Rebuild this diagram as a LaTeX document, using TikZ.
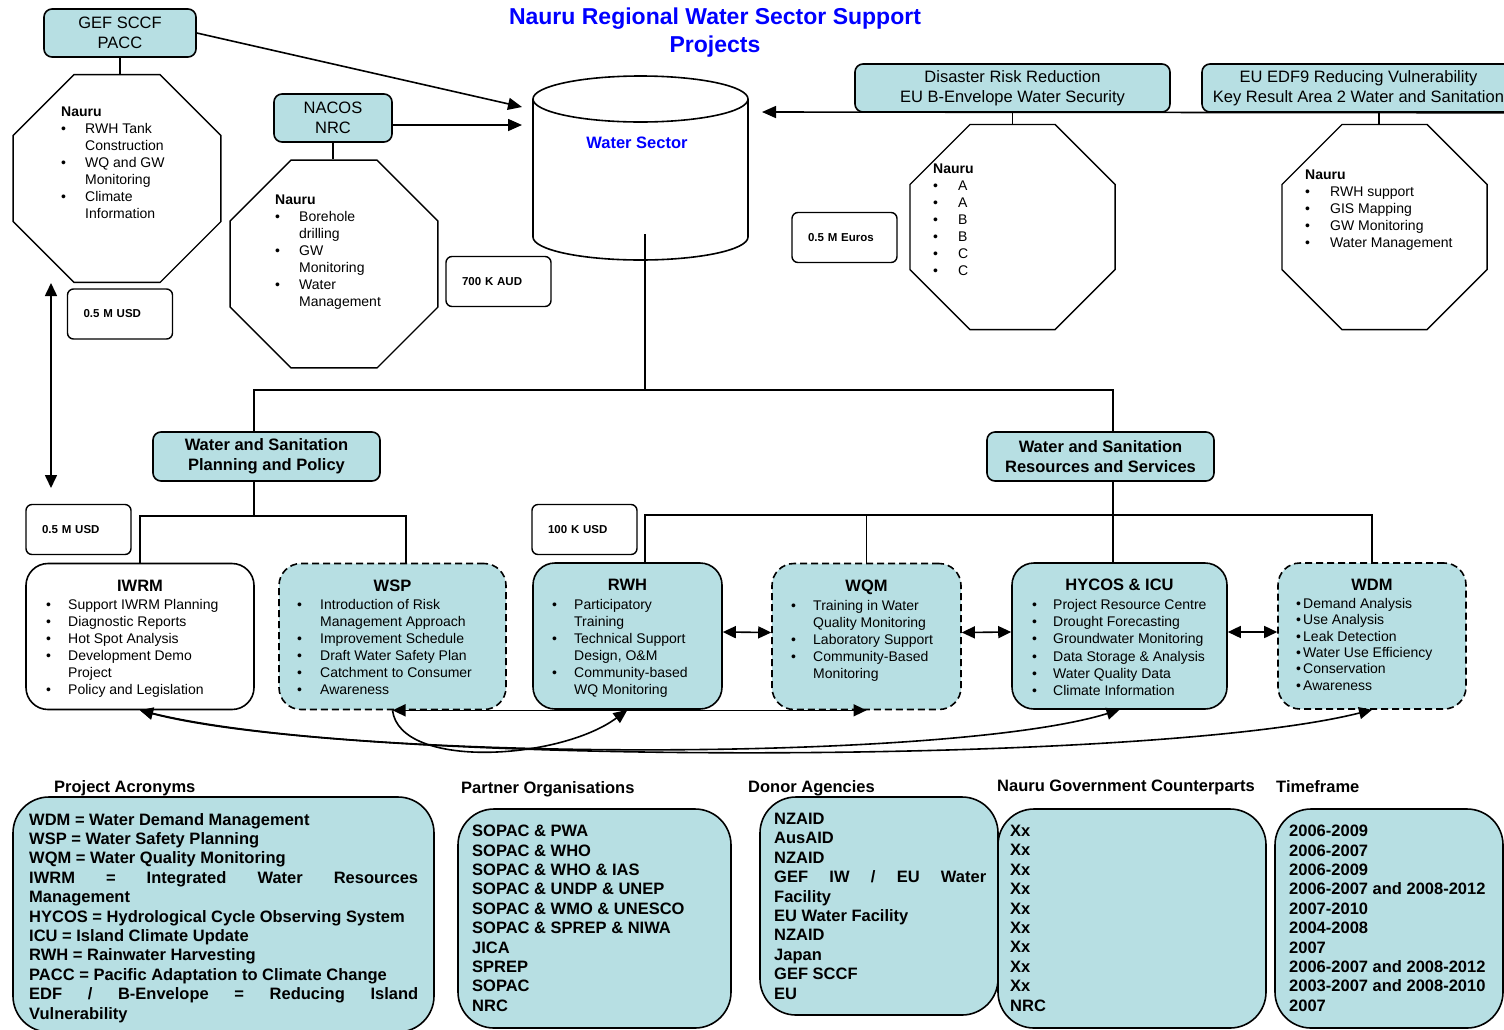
\documentclass[tikz,border=0pt]{standalone}
\usepackage{fontspec}
\setmainfont{Liberation Sans}
\usepackage{xcolor}
\usepackage{tikz}
\usetikzlibrary{shapes.geometric, arrows.meta, positioning, calc}

\definecolor{boxcyan}{RGB}{183,223,227}
\definecolor{titleblue}{RGB}{0,0,255}

\newcommand{\bul}[1]{\makebox[#1][l]{\textbullet}}
\newcommand{\cont}[1]{\hspace*{#1}}

\begin{document}
\begin{tikzpicture}[
    x=1pt, y=-1pt,
    fund/.style={rectangle, rounded corners=8pt, draw, line width=1.6pt, fill=boxcyan, align=center, font=\fontsize{16.5}{20}\selectfont, inner sep=0pt},
    area/.style={fund, font=\bfseries\fontsize{16.5}{20}\selectfont, minimum width=227pt, minimum height=49pt},
    octa/.style={regular polygon, regular polygon sides=8, draw, line width=1.4pt, minimum size=225pt, inner sep=0pt},
    money/.style={rectangle, rounded corners=6pt, draw, line width=1.4pt, text width=73pt, inner xsep=16pt, inner ysep=0pt, minimum height=50pt, align=left, font=\bfseries\fontsize{11.5}{13}\selectfont},
    proj/.style={rectangle, rounded corners=22pt, draw, line width=1.6pt, fill=boxcyan, minimum height=146pt, inner sep=0pt},
    projdash/.style={proj, dash pattern=on 7pt off 4pt},
    ptitle/.style={font=\bfseries\fontsize{16.5}{20}\selectfont, inner sep=0pt},
    items/.style={align=left, font=\fontsize{14}{17}\selectfont, inner sep=0pt, anchor=north west},
    heading/.style={font=\bfseries\fontsize{16.5}{20}\selectfont, inner sep=0pt, anchor=north west},
    info/.style={rectangle, rounded corners=36pt, draw, line width=1.6pt, fill=boxcyan},
    infotext/.style={align=left, font=\bfseries\fontsize{16.5}{19.4}\selectfont, inner sep=0pt, anchor=north west},
    conn/.style={line width=1.6pt},
    arrow/.style={conn, -{Triangle[length=14pt, width=12pt]}},
    twoway/.style={conn, {Triangle[length=13pt, width=12pt]}-{Triangle[length=13pt, width=12pt]}}
]
\useasboundingbox (0,0) rectangle (1504,1029);
\clip (0,0) rectangle (1504,1029);

% Title
\node[font=\bfseries\fontsize{23}{28}\selectfont, text=titleblue, align=center, inner sep=0pt] (title) at (715,33) {Nauru Regional Water Sector Support\\Projects};

% Funding sources
\node[fund, minimum width=152pt, minimum height=48pt] (gef) at (120,33) {GEF SCCF\\PACC};
\node[fund, minimum width=118pt, minimum height=48pt] (nacos) at (333,118) {NACOS\\NRC};
\node[fund, minimum width=315pt, minimum height=48pt] (drr) at (1012.5,88) {Disaster Risk Reduction\\EU B-Envelope Water Security};
\node[fund, minimum width=313pt, minimum height=48pt] (eu) at (1358.5,88) {EU EDF9 Reducing Vulnerability\\Key Result Area 2 Water and Sanitation};

% Nauru activities
\node[octa] (octA) at (117,178.5) {};
\node[octa] (octB) at (334,264) {};
\node[octa, minimum size=222pt] (octC) at (1012.5,227) {};
\node[octa, minimum size=222pt] (octD) at (1384.5,227) {};

\node[items] (listA) at (61,107) {\textbf{Nauru}\\ \bul{24pt}RWH Tank\\ \cont{24pt}Construction\\ \bul{24pt}WQ and GW\\ \cont{24pt}Monitoring\\ \bul{24pt}Climate\\ \cont{24pt}Information};
\node[items] (listB) at (275,195) {\textbf{Nauru}\\ \bul{24pt}Borehole\\ \cont{24pt}drilling\\ \bul{24pt}GW\\ \cont{24pt}Monitoring\\ \bul{24pt}Water\\ \cont{24pt}Management};
\node[items] (listC) at (933,164) {\textbf{Nauru}\\ \bul{25pt}A\\ \bul{25pt}A\\ \bul{25pt}B\\ \bul{25pt}B\\ \bul{25pt}C\\ \bul{25pt}C};
\node[items] (listD) at (1305,170) {\textbf{Nauru}\\ \bul{25pt}RWH support\\ \bul{25pt}GIS Mapping\\ \bul{25pt}GW Monitoring\\ \bul{25pt}Water Management};

% Budgets
\node[money] (usdA) at (120,314) {0.5 M USD};
\node[money] (aud) at (498.5,281.5) {700 K AUD};
\node[money] (eur) at (844.5,237.5) {0.5 M Euros};
\node[money] (usdB) at (78.5,529.5) {0.5 M USD};
\node[money] (usdC) at (584.5,529.5) {100 K USD};

% Water sector drum
\node[minimum width=240pt, minimum height=184pt, inner sep=0pt] (ws) at (642,169) {};
\draw[conn, fill=white] (533,99) -- (533,237) arc[start angle=180, end angle=360, x radius=107.5pt, y radius=23pt] -- (748,99);
\draw[conn] (640.5,99) ellipse [x radius=107.5pt, y radius=23pt];
\node[font=\bfseries\fontsize{16.5}{20}\selectfont, text=titleblue, inner sep=0pt] (wslabel) at (637,143) {Water Sector};

\coordinate (wsA) at (522,107);
\coordinate (wsB) at (522,125);
\coordinate (wsC) at (762,112);
\coordinate (stem) at (645,234);
\coordinate (hub) at (645,390);

% Themes
\node[area] (plan) at (266.5,456.5) {Water and Sanitation\\Planning and Policy};
\node[area] (res) at (1100.5,456.5) {Water and Sanitation\\Resources and Services};

% Projects
\node[proj, fill=white, minimum width=228pt] (iwrm) at (140,636.5) {};
\node[projdash, minimum width=227pt] (wsp) at (392.5,636.5) {};
\node[proj, minimum width=189pt] (rwh) at (627.5,636) {};
\node[projdash, minimum width=189pt] (wqm) at (866.5,636.5) {};
\node[proj, minimum width=215pt] (hycos) at (1119.5,636) {};
\node[projdash, minimum width=188pt] (wdm) at (1372,636) {};

\node[ptitle, below=17pt of iwrm.north] (iwrmT) {IWRM};
\node[ptitle, below=17pt of wsp.north] (wspT) {WSP};
\node[ptitle, below=17pt of rwh.north] (rwhT) {RWH};
\node[ptitle, below=17pt of wqm.north] (wqmT) {WQM};
\node[ptitle, below=17pt of hycos.north] (hycosT) {HYCOS \& ICU};
\node[ptitle, below=17pt of wdm.north] (wdmT) {WDM};

\node[items] (iwrmL) at (46,599) {\bul{22pt}Support IWRM Planning\\ \bul{22pt}Diagnostic Reports\\ \bul{22pt}Hot Spot Analysis\\ \bul{22pt}Development Demo\\ \cont{22pt}Project\\ \bul{22pt}Policy and Legislation};
\node[items] (wspL) at (297,599) {\bul{23pt}Introduction of Risk\\ \cont{23pt}Management Approach\\ \bul{23pt}Improvement Schedule\\ \bul{23pt}Draft Water Safety Plan\\ \bul{23pt}Catchment to Consumer\\ \bul{23pt}Awareness};
\node[items] (rwhL) at (552,599) {\bul{22pt}Participatory\\ \cont{22pt}Training\\ \bul{22pt}Technical Support\\ \cont{22pt}Design, O\&M\\ \bul{22pt}Community-based\\ \cont{22pt}WQ Monitoring};
\node[items] (wqmL) at (791,600) {\bul{22pt}Training in Water\\ \cont{22pt}Quality Monitoring\\ \bul{22pt}Laboratory Support\\ \bul{22pt}Community-Based\\ \cont{22pt}Monitoring};
\node[items, font=\fontsize{14}{17.3}\selectfont] (hycosL) at (1032,599) {\bul{21pt}Project Resource Centre\\ \bul{21pt}Drought Forecasting\\ \bul{21pt}Groundwater Monitoring\\ \bul{21pt}Data Storage \& Analysis\\ \bul{21pt}Water Quality Data\\ \bul{21pt}Climate Information};
\node[items, font=\fontsize{14}{16.4}\selectfont] (wdmL) at (1296,598) {\bul{7pt}Demand Analysis\\ \bul{7pt}Use Analysis\\ \bul{7pt}Leak Detection\\ \bul{7pt}Water Use Efficiency\\ \bul{7pt}Conservation\\ \bul{7pt}Awareness};

% Funding links
\draw[conn] (gef.south) -- (gef.south |- octA.north);
\draw[conn] (nacos.south) -- (nacos.south |- octB.north);
\draw[conn] (drr.south) -- (octC.north);
\draw[conn] ([xshift=-5.5pt]octD.north) -- ++(0,-13);
\draw[arrow] (gef.east) -- (wsA);
\draw[arrow] (nacos.east |- wsB) -- (wsB);
\draw[arrow] (eu.south east) -- (wsC);

% Tree
\draw[conn] (stem) -- (hub);
\draw[conn] ([xshift=-12.5pt]plan.north) |- (hub) -| ([xshift=12.5pt]res.north);
\draw[conn] ([xshift=-12.5pt]plan.south) -- ++(0,34) coordinate (pj);
\draw[conn] (iwrm.north) |- (pj) -| ([xshift=13.5pt]wsp.north);
\coordinate (rj) at (1113,515);
\draw[conn] ([xshift=12.5pt]res.south) -- ([xshift=-6.5pt]hycos.north);
\draw[conn] ([xshift=17.5pt]rwh.north) |- (rj) -| (wdm.north);
\draw[conn] (wqm.north) -- (wqm.north |- rj);

% Budget link
\coordinate (fundtop) at (51,283);
\coordinate (fundbot) at (51,488);
\draw[twoway] (fundtop) -- (fundbot);

% Project links
\draw[twoway] ([yshift=4pt]rwh.east) -- ([yshift=4pt]wqm.west);
\draw[twoway] ([yshift=4pt]wqm.east) -- ([yshift=4pt]hycos.west);
\draw[twoway] ([yshift=4pt]hycos.east) -- ([yshift=4pt]wdm.west);
\draw[twoway] (wsp.south) -- (wqm.south);
\draw[arrow] (wsp.south) .. controls (400,770) and (560,760) .. (rwh.south);
\draw[twoway] (iwrm.south) .. controls (350,762) and (950,762) .. (hycos.south);
\draw[twoway] (iwrm.south) .. controls (350,766) and (1150,766) .. (wdm.south);

% Legend tables
\node[heading] (hAcr) at (54,780) {Project Acronyms};
\node[heading] (hPart) at (461,781) {Partner Organisations};
\node[heading] (hDon) at (748,780) {Donor Agencies};
\node[heading] (hGov) at (997,780) {Nauru Government Counterparts};
\node[heading] (hTime) at (1276,780) {Timeframe};

\node[info, minimum width=421pt, minimum height=235pt] (acr) at (223.5,914.5) {};
\node[info, minimum width=273pt, minimum height=219pt] (part) at (594.5,918.5) {};
\node[info, minimum width=238pt, minimum height=218pt] (don) at (879,906) {};
\node[info, minimum width=268pt, minimum height=219pt] (gov) at (1132,918.5) {};
\node[info, minimum width=228pt, minimum height=219pt] (time) at (1389,918.5) {};

\node[infotext] (acrL) at (29,813) {WDM = Water Demand Management\\ WSP = Water Safety Planning\\ WQM = Water Quality Monitoring\\ \makebox[389pt][s]{IWRM = Integrated Water Resources}\\ Management\\ HYCOS = Hydrological Cycle Observing System\\ ICU = Island Climate Update\\ RWH = Rainwater Harvesting\\ PACC = Pacific Adaptation to Climate Change\\ \makebox[389pt][s]{EDF / B-Envelope = Reducing Island}\\ Vulnerability};
\node[infotext] (partL) at (472,825) {SOPAC \& PWA\\ SOPAC \& WHO\\ SOPAC \& WHO \& IAS\\ SOPAC \& UNDP \& UNEP\\ SOPAC \& WMO \& UNESCO\\ SOPAC \& SPREP \& NIWA\\ JICA\\ SPREP\\ SOPAC\\ NRC};
\node[infotext] (donL) at (774,813) {NZAID\\ AusAID\\ NZAID\\ \makebox[212pt][s]{GEF IW / EU Water}\\ Facility\\ EU Water Facility\\ NZAID\\ Japan\\ GEF SCCF\\ EU};
\node[infotext] (govL) at (1010,825) {Xx\\ Xx\\ Xx\\ Xx\\ Xx\\ Xx\\ Xx\\ Xx\\ Xx\\ NRC};
\node[infotext] (timeL) at (1289,825) {2006-2009\\ 2006-2007\\ 2006-2009\\ 2006-2007 and 2008-2012\\ 2007-2010\\ 2004-2008\\ 2007\\ 2006-2007 and 2008-2012\\ 2003-2007 and 2008-2010\\ 2007};

\end{tikzpicture}
\end{document}
